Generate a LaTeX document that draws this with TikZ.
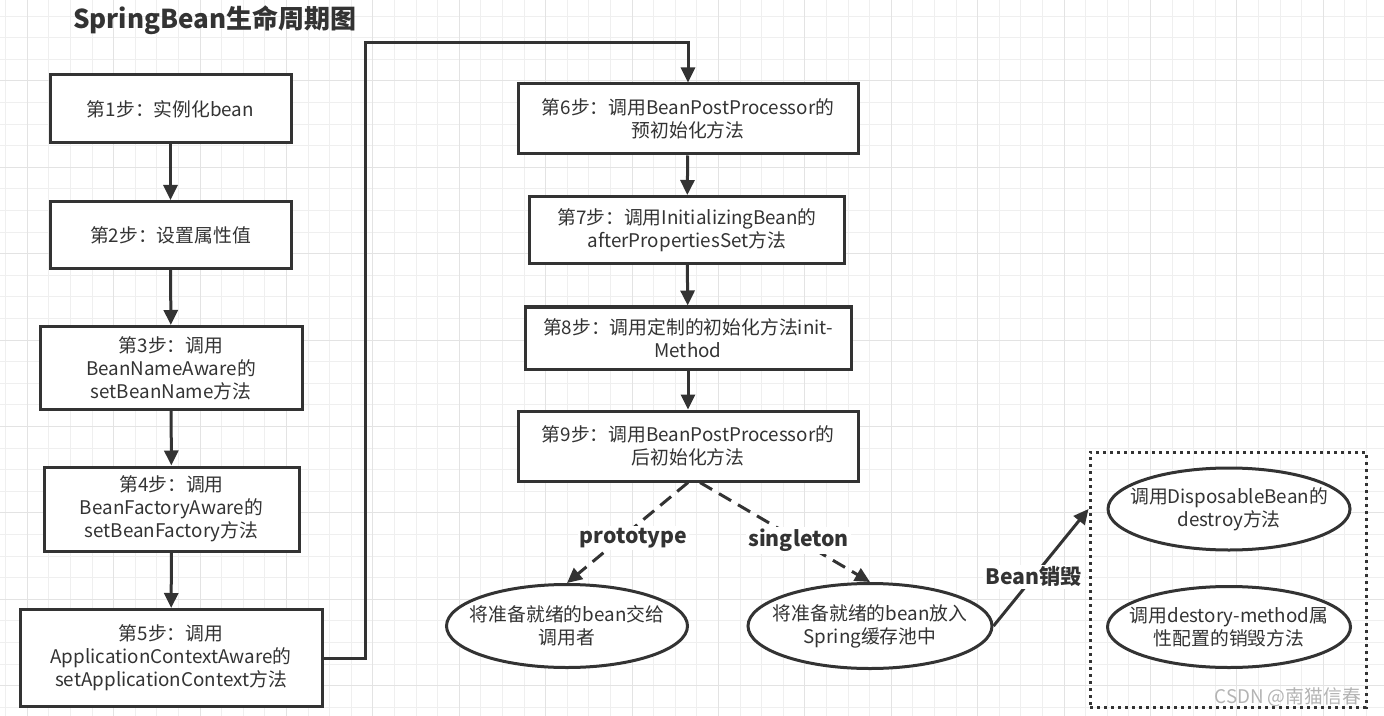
\documentclass[tikz,border=0pt]{standalone}
\usepackage{fontspec}
\setmainfont{Noto Sans CJK SC}
\usetikzlibrary{arrows.meta,shapes.geometric}
\definecolor{ink}{HTML}{333333}
\definecolor{gridminor}{HTML}{EFEFEF}
\definecolor{gridmajor}{HTML}{E3E3E3}
\definecolor{mark}{HTML}{B4B4B4}
\newcommand{\drawgrid}{
  \foreach \i in {0,...,63}
    \draw[gridminor] ({5.5+\i*21.6},0) -- ++(0,716);
  \foreach \j in {0,...,32}
    \draw[gridminor] (0,{16+\j*21.6}) -- ++(1384,0);
  \foreach \i in {0,...,15}
    \draw[gridmajor] ({27.1+\i*86.4},0) -- ++(0,716);
  \foreach \j in {0,...,7}
    \draw[gridmajor] (0,{80.8+\j*86.4}) -- ++(1384,0);
}

\begin{document}
\begin{tikzpicture}[x=0.5pt,y=-0.5pt,
  >={Triangle[length=7.5pt,width=7pt]},
  every node/.style={text=ink,font=\fontsize{9.4}{11.5}\selectfont},
  stepbox/.style={draw=ink,line width=1.5pt,fill=white,align=center,inner sep=2pt},
  oval/.style={ellipse,draw=ink,line width=1.5pt,fill=white,align=center,inner sep=-8pt},
  flow/.style={->,draw=ink,line width=1.5pt},
  branch/.style={flow,dash pattern=on 7pt off 4pt},
  tag/.style={fill=white,inner sep=1pt,font=\fontsize{10.6}{12}\selectfont\bfseries}]
\useasboundingbox (0,0) rectangle (1384,716);
\fill[white] (0,0) rectangle (1384,716);
\drawgrid
% title
\node (title) [anchor=west,font=\fontsize{13}{15}\selectfont\bfseries] at (66,20) {SpringBean生命周期图};
% left column
\node (s1) [stepbox,minimum width=120.5pt,minimum height=34pt] at (170.5,109) {第1步：实例化bean};
\node (s2) [stepbox,minimum width=120.5pt,minimum height=33.5pt] at (170.5,235) {第2步：设置属性值};
\node (s3) [stepbox,minimum width=131pt,minimum height=41.5pt] at (171,368) {第3步：调用\\BeanNameAware的\\setBeanName方法};
\node (s4) [stepbox,minimum width=127.5pt,minimum height=42pt] at (171.5,509) {第4步：调用\\BeanFactoryAware的\\setBeanFactory方法};
\node (s5) [stepbox,minimum width=151pt,minimum height=48.5pt] at (171,658) {第5步：调用\\ApplicationContextAware的\\setApplicationContext方法};
% middle column
\node (s6) [stepbox,minimum width=170pt,minimum height=35pt] at (688,119) {第6步：调用BeanPostProcessor的\\预初始化方法};
\node (s7) [stepbox,minimum width=157.5pt,minimum height=33.5pt] at (687,230) {第7步：调用InitializingBean的\\afterPropertiesSet方法};
\node (s8) [stepbox,minimum width=163pt,minimum height=31pt] at (688,338) {第8步：调用定制的初始化方法init-\\Method};
\node (s9) [stepbox,minimum width=170pt,minimum height=35pt] at (688,446) {第9步：调用BeanPostProcessor的\\后初始化方法};
% scopes
\node (p1) [oval,minimum width=120.5pt,minimum height=41.5pt] at (567,626) {将准备就绪的bean交给\\调用者};
\node (p2) [oval,minimum width=122pt,minimum height=42.5pt] at (870,626) {将准备就绪的bean放入\\Spring缓存池中};
% destruction
\node (dbox) [draw=ink,line width=1.5pt,dotted,minimum width=138pt,minimum height=127.5pt] at (1228,579.5) {};
\node (d1) [oval,minimum width=121pt,minimum height=41pt] at (1229,509) {调用DisposableBean的\\destroy方法};
\node (d2) [oval,minimum width=121.5pt,minimum height=40.5pt] at (1229,627) {调用destory-method属\\性配置的销毁方法};
\node (mark) [anchor=east,text=mark] at (1368,697) {CSDN @南猫信春};
% connectors
\draw[flow] (s1) -- (s2);
\draw[flow] (s2) -- (s3);
\draw[flow] (s3) -- (s4);
\draw[flow] (s4) -- (s5);
\coordinate (turn) at (365,43);
\draw[flow] (s5.east) -| (turn) -| (s6.north);
\draw[flow] (s6) -- (s7);
\draw[flow] (s7) -- (s8);
\draw[flow] (s8) -- (s9);
\draw[branch] (s9.south) -- (p1.north) node [tag,pos=0.55,xshift=6pt] {prototype};
\draw[branch] ([xshift=6pt]s9.south) -- (p2.north) node [tag,pos=0.58] {singleton};
\draw[flow] (p2.east) -- (dbox.west |- d1) node [tag,pos=0.42] {Bean销毁};
\end{tikzpicture}
\end{document}
